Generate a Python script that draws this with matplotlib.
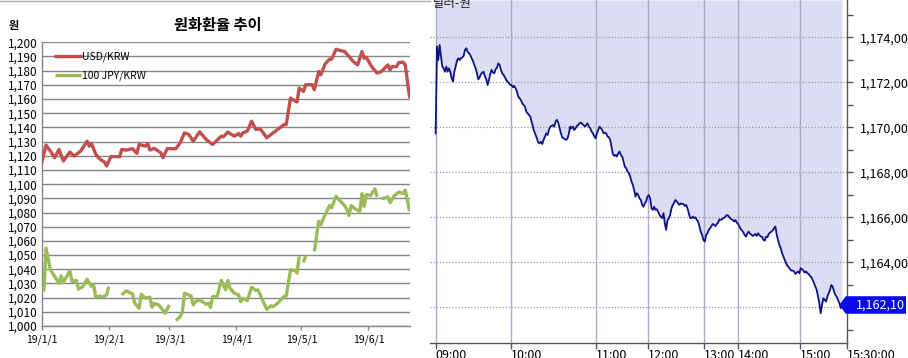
import numpy as np
import matplotlib
matplotlib.use('Agg')
import matplotlib.pyplot as plt
from matplotlib.lines import Line2D
from matplotlib.patches import Polygon
import matplotlib.transforms as mtransforms

plt.rcParams['font.family'] = ['Noto Sans CJK KR', 'DejaVu Sans']

# ---------------- Left chart data (days since 2019-01-01) ----------------
month_days = [0, 31, 59, 90, 120, 151]
month_labels = ['19/1/1', '19/2/1', '19/3/1', '19/4/1', '19/5/1', '19/6/1']

usd_days = [0, 2, 4, 6, 8, 10, 13, 15, 18, 21, 22, 23, 25, 27, 29, 30, 32, 36, 37, 39,
            42, 44, 45, 48, 49, 50, 52, 55, 56, 58, 62, 64, 66, 68, 70, 73, 76, 79, 83, 84,
            86, 89, 91, 92, 93, 95, 97, 99, 101, 104, 106, 107, 109, 112, 113, 115, 116, 118, 119, 121,
            122, 125, 126, 128, 129, 131, 133, 134, 136, 138, 140, 142, 144, 146, 148, 149, 150, 152, 153, 155,
            157, 160, 161, 162, 164, 165, 167, 168, 170]
usd_vals = [1115.1, 1127.5, 1123.3, 1118.7, 1124.5, 1116.3, 1122.6, 1119.8, 1123.3, 1130.3,
            1126.8, 1128.7, 1121.0, 1117.5, 1115.6, 1112.8, 1119.4, 1119.4, 1124.5, 1124.0,
            1125.0, 1121.7, 1128.0, 1126.8, 1128.7, 1124.0, 1125.2, 1122.2, 1118.7, 1125.0,
            1125.0, 1129.2, 1136.2, 1135.0, 1130.3, 1136.9, 1131.5, 1128.0, 1133.8, 1133.4,
            1136.7, 1133.8, 1135.7, 1133.8, 1136.2, 1137.4, 1144.4, 1138.5, 1139.0, 1132.7,
            1135.0, 1136.2, 1138.5, 1142.0, 1142.0, 1160.7, 1159.6, 1157.9, 1167.7, 1165.4,
            1170.1, 1170.1, 1166.6, 1179.4, 1177.1, 1184.8, 1188.1, 1188.1, 1195.1, 1194.2,
            1193.5, 1190.0, 1186.4, 1184.1, 1193.5, 1188.8, 1189.5, 1184.1, 1181.8, 1178.3,
            1179.4, 1184.1, 1180.6, 1182.9, 1182.9, 1185.7, 1186.0, 1184.1, 1161.4]

nan = float('nan')
jpy_days = [1, 2, 4, 6, 8, 9, 10, 13, 14, 16, 17, 19, 21, 23, 24, 25, 27, 28, 30, 31,
            34,
            37, 39, 42, 43, 45, 46, 48, 50, 51, 52, 54, 56, 57, 59,
            60,
            62, 64, 65, 66, 69, 70, 71, 73, 76, 77, 78, 79, 81, 83, 85, 86, 87, 89, 91, 92,
            93, 95, 97, 99, 100, 102, 104, 106, 107, 109, 112, 113, 115, 117, 118, 119,
            120,
            121, 122,
            124,
            126, 128, 129, 131, 133, 134, 136, 138, 140, 141, 142, 143, 145, 147, 148, 149, 150, 152, 154, 155,
            156,
            157, 160, 161, 163, 165, 167, 168, 169, 170]
jpy_vals = [1024.3, 1055.0, 1039.6, 1034.9, 1030.2, 1035.4, 1030.7, 1038.9, 1031.4, 1032.1,
            1026.0, 1027.8, 1033.0, 1027.8, 1029.0, 1020.3, 1021.2, 1020.3, 1021.9, 1027.8,
            nan,
            1021.9, 1024.8, 1022.6, 1016.0, 1012.5, 1022.4, 1019.6, 1020.3, 1013.2, 1016.0,
            1014.9, 1011.3, 1009.0, 1014.9,
            nan,
            1003.8, 1006.6, 1010.1, 1023.1, 1021.2, 1014.9, 1017.2, 1018.4, 1015.3, 1016.0,
            1013.2, 1020.8, 1020.3, 1032.1, 1025.5, 1032.1, 1026.7, 1023.1, 1021.9, 1017.2,
            1019.6, 1017.9, 1027.4, 1025.0, 1025.5, 1018.4, 1011.8, 1014.2, 1013.7, 1016.0,
            1020.8, 1021.2, 1039.6, 1039.2, 1037.3, 1049.1,
            nan,
            1044.8, 1049.5,
            nan,
            1052.6, 1073.8, 1071.5, 1078.5, 1084.9, 1083.3, 1091.5, 1088.0, 1084.9, 1082.1,
            1077.8, 1084.9, 1082.5, 1080.9, 1093.4, 1084.4, 1092.7, 1092.0, 1096.7, 1091.0,
            nan,
            1089.6, 1091.0, 1086.8, 1092.0, 1094.3, 1093.4, 1095.8, 1088.7, 1080.9]

series_labels = ['USD/KRW', '100 JPY/KRW']
series_colors = ['#C0504D', '#9BBB59']

# ---------------- Right chart data (intraday ticks) ----------------
hour_pos = [0, 56.75, 120, 159.5, 201.5, 227, 273.75, 308.75]
hour_labels = ['09:00', '10:00', '11:00', '12:00', '13:00', '14:00', '15:00', '15:30:00']
last_label = '1,162,10'
intraday = [
    1169.73, 1173.59, 1172.99, 1173.66, 1173.14, 1172.70, 1172.62, 1172.47, 1172.70, 1172.47,
    1172.62, 1172.47, 1172.18, 1172.03, 1172.47, 1172.70, 1172.96, 1173.07, 1172.99, 1173.07,
    1173.11, 1173.17, 1173.44, 1173.51, 1173.36, 1173.29, 1173.21, 1173.07, 1172.95, 1172.77,
    1172.62, 1172.40, 1172.13, 1172.22, 1172.37, 1172.43, 1172.47, 1172.25, 1172.13, 1171.88,
    1172.10, 1172.37, 1172.55, 1172.43, 1172.40, 1172.58, 1172.65, 1172.84, 1172.77, 1172.55,
    1172.40, 1172.33, 1172.22, 1172.10, 1172.03, 1171.96, 1171.88, 1171.88, 1171.78, 1171.84,
    1171.73, 1171.59, 1171.36, 1171.29, 1171.21, 1171.07, 1170.99, 1170.92, 1170.70, 1170.62,
    1170.55, 1170.47, 1170.25, 1170.03, 1169.81, 1169.66, 1169.51, 1169.32, 1169.29, 1169.36,
    1169.26, 1169.44, 1169.59, 1169.73, 1169.66, 1169.88, 1170.03, 1170.06, 1170.10, 1170.03,
    1170.25, 1170.33, 1170.21, 1169.96, 1169.73, 1169.56, 1169.51, 1169.47, 1169.44, 1169.51,
    1169.73, 1170.03, 1169.96, 1170.03, 1169.88, 1169.96, 1170.06, 1170.10, 1170.18, 1170.21,
    1170.15, 1170.10, 1170.03, 1170.10, 1170.18, 1170.03, 1169.96, 1169.81, 1169.73, 1169.61,
    1169.51, 1169.73, 1169.88, 1170.03, 1169.96, 1169.88, 1169.73, 1169.76, 1169.73, 1169.59,
    1169.56, 1169.44, 1169.14, 1168.81, 1168.73, 1168.77, 1168.70, 1168.84, 1168.92, 1168.77,
    1168.70, 1168.47, 1168.25, 1168.18, 1168.03, 1167.96, 1167.81, 1167.59, 1167.44, 1167.21,
    1166.92, 1167.07, 1166.99, 1166.84, 1166.77, 1166.55, 1166.47, 1166.62, 1166.70, 1166.92,
    1166.99, 1166.84, 1166.40, 1166.33, 1166.47, 1166.33, 1166.36, 1166.25, 1166.10, 1166.03,
    1165.96, 1166.18, 1165.73, 1165.44, 1165.88, 1165.96, 1166.10, 1166.40, 1166.55, 1166.65,
    1166.77, 1166.70, 1166.62, 1166.55, 1166.62, 1166.59, 1166.59, 1166.50, 1166.55, 1166.40,
    1166.18, 1165.96, 1165.96, 1166.03, 1165.96, 1166.00, 1165.88, 1165.81, 1165.59, 1165.36,
    1165.21, 1164.99, 1164.92, 1165.21, 1165.29, 1165.44, 1165.51, 1165.61, 1165.70, 1165.66,
    1165.61, 1165.70, 1165.76, 1165.91, 1165.88, 1165.91, 1165.96, 1166.00, 1166.07, 1166.10,
    1166.03, 1165.96, 1165.91, 1165.88, 1165.81, 1165.88, 1165.76, 1165.70, 1165.59, 1165.47,
    1165.41, 1165.32, 1165.21, 1165.14, 1165.29, 1165.36, 1165.26, 1165.23, 1165.17, 1165.21,
    1165.26, 1165.17, 1165.29, 1165.21, 1165.14, 1165.14, 1164.99, 1164.96, 1165.14, 1165.11,
    1165.26, 1165.32, 1165.36, 1165.41, 1165.51, 1165.59, 1165.21, 1164.99, 1164.77, 1164.62,
    1164.40, 1164.25, 1164.10, 1163.96, 1163.84, 1163.78, 1163.69, 1163.63, 1163.63, 1163.59,
    1163.48, 1163.54, 1163.59, 1163.51, 1163.73, 1163.69, 1163.63, 1163.54, 1163.59, 1163.51,
    1163.48, 1163.39, 1163.33, 1163.21, 1163.07, 1162.92, 1162.77, 1162.47, 1162.18, 1161.73,
    1162.10, 1162.40, 1162.33, 1162.25, 1162.47, 1162.62, 1162.77, 1162.99, 1162.92, 1162.70,
    1162.55, 1162.47, 1162.33, 1162.18, 1161.96, 1162.10]

W, H = 908, 358
fig = plt.figure(figsize=(W / 100, H / 100), dpi=100)
fig.patch.set_facecolor('white')


def fx(px):
    return px / W


def fy(py):
    return 1 - py / H


# ================= LEFT CHART =================
ax1 = fig.add_axes([fx(41.7), fy(326), fx(410 - 41.7), (326 - 42.3) / H])
ax1.plot(usd_days, usd_vals, color=series_colors[0], lw=2.4, solid_joinstyle='round',
         solid_capstyle='round', label=series_labels[0], zorder=3)
ax1.plot(jpy_days, jpy_vals, color=series_colors[1], lw=2.4, solid_joinstyle='round',
         solid_capstyle='butt', label=series_labels[1], zorder=3)
ax1.set_xlim(0, 170.2)
ax1.set_ylim(1000, 1200)
ax1.set_yticks(np.arange(1000, 1201, 10))
ax1.set_yticklabels([f'{v:,}' for v in np.arange(1000, 1201, 10)], fontsize=8.5)
ax1.yaxis.grid(True, color='#868686', lw=1.0)
ax1.set_axisbelow(True)
ax1.tick_params(axis='y', length=0, pad=3, colors='#000000')
ax1.set_xticks(month_days)
ax1.set_xticklabels(month_labels, fontsize=7.5)
ax1.tick_params(axis='x', length=3, width=1, color='#868686', pad=3)
for s in ['top', 'right']:
    ax1.spines[s].set_visible(False)
for s in ['left', 'bottom']:
    ax1.spines[s].set_color('#868686')
    ax1.spines[s].set_linewidth(1.0)
ax1.legend(loc='upper left', bbox_to_anchor=(fx(55), fy(52)), bbox_transform=fig.transFigure,
           frameon=False, fontsize=7.5, handlelength=2.5, handletextpad=0.1,
           borderpad=0, borderaxespad=0, labelspacing=0.75)

fig.text(fx(218), fy(25), '원화환율 추이', ha='center', va='center', fontsize=11, fontweight='bold')
fig.text(fx(14), fy(25), '원', ha='center', va='center', fontsize=8, fontweight='bold')
fig.add_artist(Line2D([0, fx(430)], [fy(0.5), fy(0.5)], color='#B0B0B0', lw=1))

# ================= RIGHT CHART =================
x_left_px, x_right_px = 430.0, 847.0
ax2 = fig.add_axes([fx(x_left_px), fy(343), fx(x_right_px - x_left_px), 343 / H])
xi = np.arange(len(intraday))
ylo, yhi = 1160.41, 1175.66
ax2.set_ylim(ylo, yhi)
ax2.set_xlim(-4.25, hour_pos[-1])
ax2.fill_between(xi, intraday, yhi, color='#DCDCF5', lw=0, zorder=1)
ax2.plot(xi, intraday, color='#0D1488', lw=1.3, zorder=4)

yt = np.arange(1162, 1175, 2)
for v in yt:
    ax2.axhline(v, color='#9A9A9A', lw=0.9, ls=(0, (1, 1.5)), zorder=2)
for p in hour_pos[:-1]:
    ax2.axvline(p, color='#A4AEC4', lw=1.0, zorder=3)

ax2.yaxis.tick_right()
ax2.set_yticks(yt)
ax2.set_yticks(np.arange(1161, 1176, 2), minor=True)
ylabels = [f'{v:,.2f}'.replace('.', ',') for v in yt]
ylabels[0] = ''  # hidden behind the last-value box
ax2.set_yticklabels(ylabels, fontsize=9)
ax2.tick_params(axis='y', which='both', direction='out', length=4, width=1, color='#555555', pad=5)
ax2.set_xticks(hour_pos)
ax2.set_xticklabels(hour_labels, fontsize=9, ha='left')
ax2.tick_params(axis='x', direction='out', length=4, width=1, color='#555555', pad=0)
for s in ['top', 'left']:
    ax2.spines[s].set_visible(False)
for s in ['right', 'bottom']:
    ax2.spines[s].set_color('#555555')
    ax2.spines[s].set_linewidth(1.0)

# last-value label box
last = intraday[-1]
tr = mtransforms.blended_transform_factory(ax2.transAxes, ax2.transData)
x_tip = (839.3 - x_left_px) / (x_right_px - x_left_px)
x_b0 = (845.7 - x_left_px) / (x_right_px - x_left_px)
x_b1 = (906 - x_left_px) / (x_right_px - x_left_px)
hh = 0.39
poly = Polygon([[x_tip, last], [x_b0, last + hh], [x_b1, last + hh], [x_b1, last - hh], [x_b0, last - hh]],
               closed=True, transform=tr, facecolor='#0A0AEE', edgecolor='none', clip_on=False, zorder=6)
ax2.add_patch(poly)
ax2.text((x_b0 + x_b1) / 2 + 0.01, last, last_label, transform=tr, ha='center', va='center',
         color='white', fontsize=9, clip_on=False, zorder=7)

fig.text(fx(433), fy(7), '달러-원', ha='left', va='baseline', fontsize=9, color='#222222')

fig.savefig('out.png', dpi=100, facecolor='white')
